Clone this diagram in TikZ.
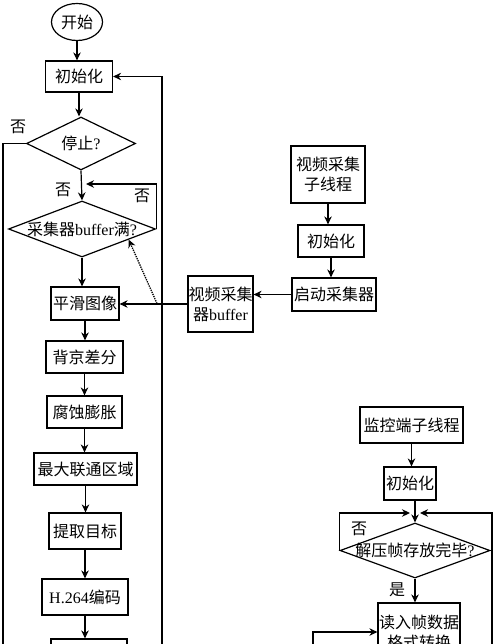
\documentclass[tikz,border=0pt]{standalone}
\usepackage{fontspec}
\setmainfont{Liberation Serif}
\newfontfamily\cjk{Noto Sans CJK SC}
\usetikzlibrary{arrows.meta,shapes.geometric,calc}
\newcommand\latn[1]{{\rmfamily #1}}
\begin{document}
\begin{tikzpicture}[x=1pt,y=-1pt,
  line width=1.2pt,
  every node/.style={font=\cjk\fontsize{16}{20}\selectfont},
  box/.style={draw, rectangle, inner sep=0pt, align=center},
  dia/.style={draw, diamond, inner sep=0pt},
  arr/.style={-{Stealth[length=8pt,width=7.5pt]}},
  lbl/.style={inner sep=0pt}
]
\useasboundingbox (0,0) rectangle (500,644);
\clip (0,0) rectangle (500,644);

% main thread
\node[draw, ellipse, inner sep=0pt, minimum width=51pt, minimum height=37pt] (start) at (77,22) {开始};
\node[box, minimum width=67pt, minimum height=31pt] (init1) at (79,76.5) {初始化};
\node[dia, minimum width=109pt, minimum height=53pt, label=center:{停止\latn{?}}] (stop) at (81,143.5) {};
\node[dia, minimum width=147pt, minimum height=56pt, label=center:{采集器\latn{buffer}满\latn{?}}] (buf) at (82,229) {};
\node[box, minimum width=68pt, minimum height=33pt] (smooth) at (85,303.5) {平滑图像};
\node[box, minimum width=77pt, minimum height=32pt] (bg) at (84.5,357) {背京差分};
\node[box, minimum width=75pt, minimum height=32pt] (erode) at (84.5,412) {腐蚀膨胀};
\node[box, minimum width=103pt, minimum height=32pt] (maxr) at (85.5,469) {最大联通区域};
\node[box, minimum width=72pt, minimum height=36pt] (extract) at (85,531) {提取目标};
\node[box, minimum width=86pt, minimum height=36pt] (h264) at (85,597) {\latn{H.264}编码};
\node[box, minimum width=76pt, minimum height=40pt] (next) at (89,659) {};

% capture thread
\node[box, minimum width=74pt, minimum height=57pt] (vthread) at (328,174.5) {视频采集\\子线程};
\node[box, minimum width=66pt, minimum height=32pt] (init2) at (331,241) {初始化};
\node[box, minimum width=84pt, minimum height=33pt] (startcap) at (334,294.5) {启动采集器};
\node[box, minimum width=65pt, minimum height=56pt] (vbuf) at (220.5,304) {视频采集\\器\latn{buffer}};

% monitor thread
\node[box, minimum width=103pt, minimum height=36pt] (mthread) at (411.5,425) {监控端子线程};
\node[box, minimum width=52pt, minimum height=33pt] (init3) at (410,483.5) {初始化};
\node[dia, minimum width=150pt, minimum height=55pt, label=center:{解压帧存放完毕\latn{?}}] (dec) at (415,550.5) {};
\node[box, minimum width=82pt, minimum height=58pt] (read) at (419,632) {读入帧数据\\格式转换};

% labels
\node[lbl] (no1) at (18,127) {否};
\node[lbl] (no2) at (63,190) {否};
\node[lbl] (no3) at (142,196) {否};
\node[lbl] (no4) at (359,529) {否};
\node[lbl] (yes1) at (397,590) {是};

% helper coordinates
\coordinate (j1) at (81,184);
\coordinate (j2) at (415,513);
\coordinate (lb) at (3,700);
\coordinate (rb) at (162,700);
\coordinate (mb) at (492,700);
\coordinate (lb2) at (313,700);
\coordinate (dots) at (157,303.5);

% main chain arrows
\draw[arr] (start.south) -- (start.south |- init1.north);
\draw[arr] (init1.south) -- (init1.south |- stop.north);
\draw[arr] (stop.south) -- (buf.north);
\draw[arr] (buf.south) -- (buf.south |- smooth.north);
\draw[arr] (smooth.south) -- (smooth.south |- bg.north);
\draw[arr] (bg.south) -- (bg.south |- erode.north);
\draw[arr] (erode.south) -- (erode.south |- maxr.north);
\draw[arr] (maxr.south) -- (maxr.south |- extract.north);
\draw[arr] (extract.south) -- (extract.south |- h264.north);
\draw[arr] (h264.south) -- (h264.south |- next.north);

% loops of main thread
\draw (stop.west) -| (lb);
\draw[arr] (rb) |- (init1.east);
\draw[arr] (buf.east) |- ([xshift=5pt]j1);

% capture thread arrows
\draw[arr] (vthread.south) -- (vthread.south |- init2.north);
\draw[arr] (init2.south) -- (init2.south |- startcap.north);
\draw[arr] (startcap.west) -- (startcap.west -| vbuf.east);
\draw[arr] (vbuf.west) -- (vbuf.west -| smooth.east);
\draw[arr, densely dotted, line width=1.3pt] (dots) -- ($(buf.east)!0.37!(buf.south)$);

% monitor thread arrows
\draw[arr] (mthread.south) -- (mthread.south |- init3.north);
\draw[arr] (dec.north |- init3.south) -- (dec.north);
\draw[arr] (dec.west) |- ([xshift=-5pt]j2);
\draw[arr] (mb) |- ([xshift=5pt]j2);
\draw[arr] (dec.south) -- (dec.south |- read.north);
\draw[arr] (lb2) |- (read.west);
\end{tikzpicture}
\end{document}
